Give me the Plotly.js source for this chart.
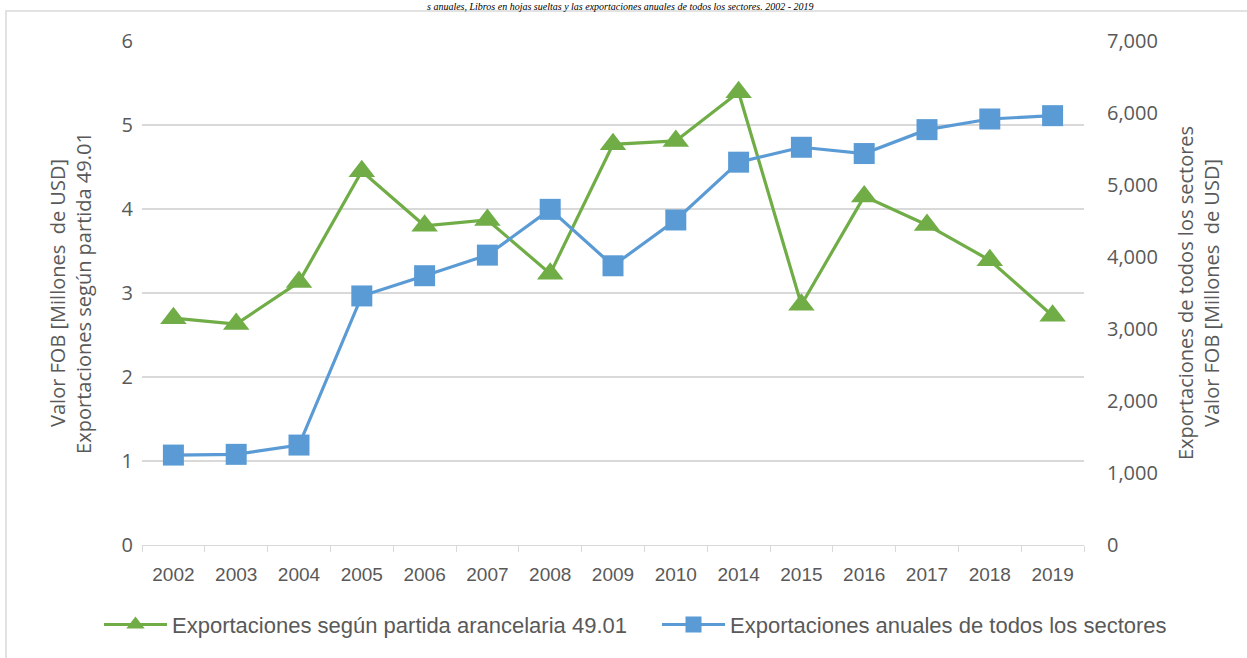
<!DOCTYPE html>
<html>
<head>
<meta charset="utf-8">
<script src="https://cdn.plot.ly/plotly-3.0.1.min.js"></script>
<style>
  html, body { margin: 0; padding: 0; background: #ffffff; }
  #chart { width: 1247px; height: 658px; }
</style>
</head>
<body>
<div id="chart"></div>
<script>
// ---- data ----
const years = ["2002","2003","2004","2005","2006","2007","2008","2009","2010","2014","2015","2016","2017","2018","2019"];
const partida4901 = [2.70, 2.63, 3.13, 4.45, 3.80, 3.87, 3.23, 4.77, 4.81, 5.39, 2.86, 4.15, 3.81, 3.39, 2.73];
const todosSectores = [1249, 1259, 1388, 3459, 3740, 4026, 4662, 3878, 4514, 5317, 5524, 5437, 5769, 5917, 5963];
const seriesNames = ["Exportaciones según partida arancelaria 49.01", "Exportaciones anuales de todos los sectores"];
const leftTitle = "Valor FOB [Millones  de USD]<br>Exportaciones según partida 49.01";
const rightTitle = "Exportaciones de todos los sectores<br>Valor FOB [Millones  de USD]";
const topTitle = "s anuales, Libros en hojas sueltas y las exportaciones anuales de todos los sectores. 2002 - 2019";

// ---- layout geometry ----
const W = 1247, H = 658;
const M = { l: 142, r: 163, t: 41, b: 111 };
const pw = W - M.l - M.r, ph = H - M.t - M.b;
const px2x = p => (p - M.l) / pw;
const px2y = p => (H - M.b - p) / ph;

const textGray = "#595959";
const gridGray = "#D9D9D9";
const narrow = "'Liberation Sans', Arial, sans-serif";
const sans = "'Open Sans', 'Noto Sans', sans-serif";

const traces = [
  {
    x: years, y: partida4901, name: seriesNames[0], type: "scatter", mode: "lines+markers",
    line: { color: "#70AD47", width: 3.2 },
    marker: { symbol: "triangle-up", size: 23, color: "#70AD47" },
    yaxis: "y", legend: "legend"
  },
  {
    x: years, y: todosSectores, name: seriesNames[1], type: "scatter", mode: "lines+markers",
    line: { color: "#5B9BD5", width: 3.2 },
    marker: { symbol: "square", size: 21, color: "#5B9BD5" },
    yaxis: "y2", legend: "legend2"
  }
];

const legendCommon = {
  orientation: "h",
  xanchor: "left",
  yanchor: "middle",
  font: { family: narrow, size: 22, color: textGray },
  itemwidth: 63,
  bgcolor: "rgba(0,0,0,0)"
};

const layout = {
  width: W, height: H,
  margin: M,
  paper_bgcolor: "#ffffff",
  plot_bgcolor: "#ffffff",
  showlegend: true,
  legend: Object.assign({}, legendCommon, { x: px2x(99), y: px2y(627) }),
  legend2: Object.assign({}, legendCommon, { x: px2x(657), y: px2y(627) }),
  xaxis: {
    type: "category",
    range: [-0.5, years.length - 0.5],
    autorange: false,
    tickson: "boundaries",
    ticks: "outside",
    ticklen: 6,
    tickcolor: gridGray,
    showline: true,
    linecolor: gridGray,
    linewidth: 1,
    showgrid: false,
    tickfont: { family: narrow, size: 19, color: textGray },
    ticklabelstandoff: 12,
    fixedrange: true
  },
  yaxis: {
    range: [0, 6],
    dtick: 1,
    tick0: 0,
    showgrid: true,
    gridcolor: gridGray,
    gridwidth: 1.3,
    zeroline: false,
    showline: false,
    ticks: "",
    tickfont: { family: sans, size: 20, color: textGray },
    ticklabelstandoff: 8,
    title: { text: leftTitle, font: { family: sans, size: 20, color: textGray }, standoff: 24 }
  },
  yaxis2: {
    overlaying: "y",
    side: "right",
    range: [0, 7000],
    dtick: 1000,
    tick0: 0,
    tickformat: ",d",
    showgrid: false,
    zeroline: false,
    showline: false,
    ticks: "",
    tickfont: { family: sans, size: 20, color: textGray },
    ticklabelstandoff: 22,
    title: { text: rightTitle, font: { family: sans, size: 20, color: textGray }, standoff: 22 }
  },
  shapes: [
    {
      type: "rect", xref: "paper", yref: "paper", layer: "below",
      x0: px2x(6), x1: px2x(1300), y0: px2y(700), y1: px2y(11),
      line: { color: "#D9D9D9", width: 1.5 },
      fillcolor: "rgba(0,0,0,0)"
    }
  ],
  annotations: [
    {
      text: topTitle,
      xref: "paper", yref: "paper",
      x: px2x(620), xanchor: "center",
      y: px2y(0), yanchor: "top",
      borderpad: 0,
      showarrow: false,
      font: { family: "'Liberation Serif', 'DejaVu Serif', serif", size: 10, color: "#000000", style: "italic" }
    }
  ]
};

Plotly.newPlot("chart", traces, layout, { displayModeBar: false, staticPlot: true });
</script>
</body>
</html>
